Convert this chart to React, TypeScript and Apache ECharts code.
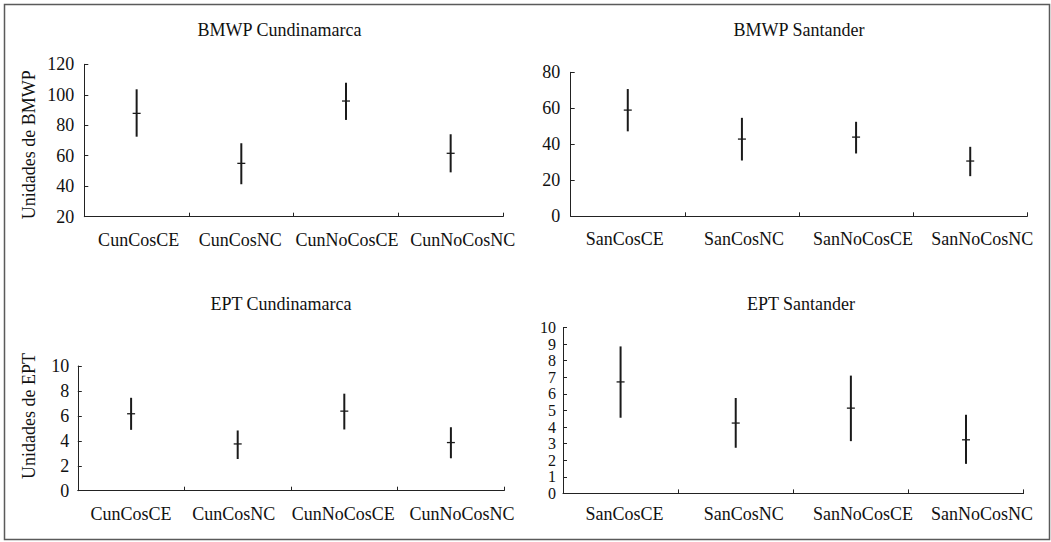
import React, { useEffect, useRef } from "react";
import * as echarts from "echarts";

// Categories
const cunCategories = ["CunCosCE", "CunCosNC", "CunNoCosCE", "CunNoCosNC"];
const sanCategories = ["SanCosCE", "SanCosNC", "SanNoCosCE", "SanNoCosNC"];

// BMWP Cundinamarca: mean and interval limits
const bmwpCunMean = [87.8, 55.0, 95.9, 61.6];
const bmwpCunLow = [72.5, 41.3, 83.5, 49.1];
const bmwpCunHigh = [103.6, 68.2, 107.9, 74.1];

// BMWP Santander
const bmwpSanMean = [59.0, 42.9, 44.0, 30.7];
const bmwpSanLow = [47.2, 31.0, 34.9, 22.3];
const bmwpSanHigh = [70.7, 54.7, 52.5, 38.6];

// EPT Cundinamarca
const eptCunMean = [6.17, 3.75, 6.38, 3.86];
const eptCunLow = [4.88, 2.54, 4.91, 2.6];
const eptCunHigh = [7.45, 4.83, 7.78, 5.09];

// EPT Santander
const eptSanMean = [6.72, 4.24, 5.14, 3.23];
const eptSanLow = [4.56, 2.75, 3.15, 1.78];
const eptSanHigh = [8.86, 5.75, 7.1, 4.74];

// Panel titles and axis names
const panelTitles = ["BMWP Cundinamarca", "BMWP Santander", "EPT Cundinamarca", "EPT Santander"];
const yAxisNames = ["Unidades de BMWP", "Unidades de EPT"];

const FONT = "Liberation Serif, Times New Roman, serif";
const INK = "#111111";

function buildRows(mean: number[], low: number[], high: number[]) {
  return mean.map((m, i) => [i, m, low[i], high[i]]);
}

const renderErrorBar = (params: any, api: any) => {
  const x = api.value(0);
  const m = api.coord([x, api.value(1)]);
  const lo = api.coord([x, api.value(2)]);
  const hi = api.coord([x, api.value(3)]);
  return {
    type: "group",
    children: [
      {
        type: "line",
        shape: { x1: lo[0], y1: lo[1], x2: hi[0], y2: hi[1] },
        style: { stroke: "#1a1a1a", lineWidth: 2 },
      },
      {
        type: "line",
        shape: { x1: m[0] - 4, y1: m[1], x2: m[0] + 4, y2: m[1] },
        style: { stroke: "#1a1a1a", lineWidth: 1.3 },
      },
    ],
  };
};

// Horizontal nudges (px) of the category labels under each panel
const labelShift = [
  [2, -1, 1, 12],
  [-3, 2, 7, 12],
  [0, -4, -1, 11],
  [4, 8, 12, 16],
];

function shiftedRich(shifts: number[]) {
  const rich: Record<string, any> = {};
  shifts.forEach((s, i) => {
    rich["c" + i] = {
      fontFamily: FONT,
      fontSize: 18,
      color: INK,
      padding: s >= 0 ? [0, 0, 0, 2 * s] : [0, -2 * s, 0, 0],
    };
  });
  return rich;
}

export default function App() {
  const ref = useRef<HTMLDivElement>(null);

  useEffect(() => {
    if (!ref.current) return;
    const chart = echarts.init(ref.current, null, { renderer: "svg" });

    const grids = [
      { left: 84.3, top: 64.3, width: 418.7, height: 152.4 },
      { left: 570.7, top: 72.3, width: 456.6, height: 144 },
      { left: 77.8, top: 366, width: 426.4, height: 124.7 },
      { left: 563, top: 327.5, width: 460.6, height: 165.9 },
    ];

    const axisLine = { show: true, lineStyle: { color: "#222", width: 1 } };
    const axisTick = { show: true, inside: true, length: 4, lineStyle: { color: "#222", width: 1 } };

    const xCats = [cunCategories, sanCategories, cunCategories, sanCategories];
    const xMargins = [14, 13.5, 14, 11.5];

    const xAxes = xCats.map((cats, i) => ({
      type: "category",
      gridIndex: i,
      data: cats,
      boundaryGap: true,
      axisLine,
      axisTick,
      splitLine: { show: false },
      axisLabel: {
        margin: xMargins[i],
        fontFamily: FONT,
        fontSize: 18,
        color: INK,
        interval: 0,
        formatter: (v: string, idx: number) => `{c${idx}|${v}}`,
        rich: shiftedRich(labelShift[i]),
      },
    }));

    const yRanges = [
      { min: 20, max: 120, interval: 20, margin: 10, size: 18, lh: 18 },
      { min: 0, max: 80, interval: 20, margin: 10.5, size: 18, lh: 18 },
      { min: 0, max: 10, interval: 2, margin: 8.5, size: 18, lh: 18 },
      { min: 0, max: 10, interval: 1, margin: 7, size: 16, lh: 16 },
    ];

    const yAxes = yRanges.map((r, i) => ({
      type: "value",
      gridIndex: i,
      min: r.min,
      max: r.max,
      interval: r.interval,
      axisLine,
      axisTick,
      splitLine: { show: false },
      axisLabel: {
        margin: r.margin,
        fontFamily: FONT,
        fontSize: r.size,
        lineHeight: r.lh,
        color: INK,
        showMinLabel: true,
        showMaxLabel: true,
      },
    }));

    const seriesRows = [
      buildRows(bmwpCunMean, bmwpCunLow, bmwpCunHigh),
      buildRows(bmwpSanMean, bmwpSanLow, bmwpSanHigh),
      buildRows(eptCunMean, eptCunLow, eptCunHigh),
      buildRows(eptSanMean, eptSanLow, eptSanHigh),
    ];

    const series = seriesRows.map((rows, i) => ({
      type: "custom",
      name: panelTitles[i],
      xAxisIndex: i,
      yAxisIndex: i,
      data: rows,
      encode: { x: 0, y: [1, 2, 3] },
      renderItem: renderErrorBar,
      silent: true,
    }));

    const titlePos = [
      { x: 279.5, y: 30 },
      { x: 799, y: 30 },
      { x: 281, y: 303.5 },
      { x: 801, y: 303.5 },
    ];

    const yNamePos = [
      { x: 28.8, y: 144.7 },
      { x: 28.8, y: 416 },
    ];

    const graphic: any[] = [
      {
        type: "rect",
        shape: { x: 4.5, y: 4.5, width: 1045, height: 535 },
        style: { fill: "none", stroke: "#5a5a5a", lineWidth: 1.5 },
        silent: true,
      },
      ...panelTitles.map((t, i) => ({
        type: "text",
        x: titlePos[i].x,
        y: titlePos[i].y,
        style: {
          text: t,
          fontFamily: FONT,
          fontSize: 18,
          fontWeight: "normal",
          fill: INK,
          textAlign: "center",
          textVerticalAlign: "middle",
        },
        silent: true,
      })),
      ...yAxisNames.map((t, i) => ({
        type: "text",
        x: yNamePos[i].x,
        y: yNamePos[i].y,
        rotation: Math.PI / 2,
        style: {
          text: t,
          fontFamily: FONT,
          fontSize: 18,
          fill: INK,
          textAlign: "center",
          textVerticalAlign: "middle",
        },
        silent: true,
      })),
    ];

    chart.setOption({
      animation: false,
      backgroundColor: "#ffffff",
      grid: grids,
      xAxis: xAxes,
      yAxis: yAxes,
      series,
      graphic,
    });

    return () => {
      chart.dispose();
    };
  }, []);

  return (
    <div
      ref={ref}
      style={{ position: "fixed", left: 0, top: 0, width: 1051, height: 542, background: "#fff" }}
    />
  );
}
